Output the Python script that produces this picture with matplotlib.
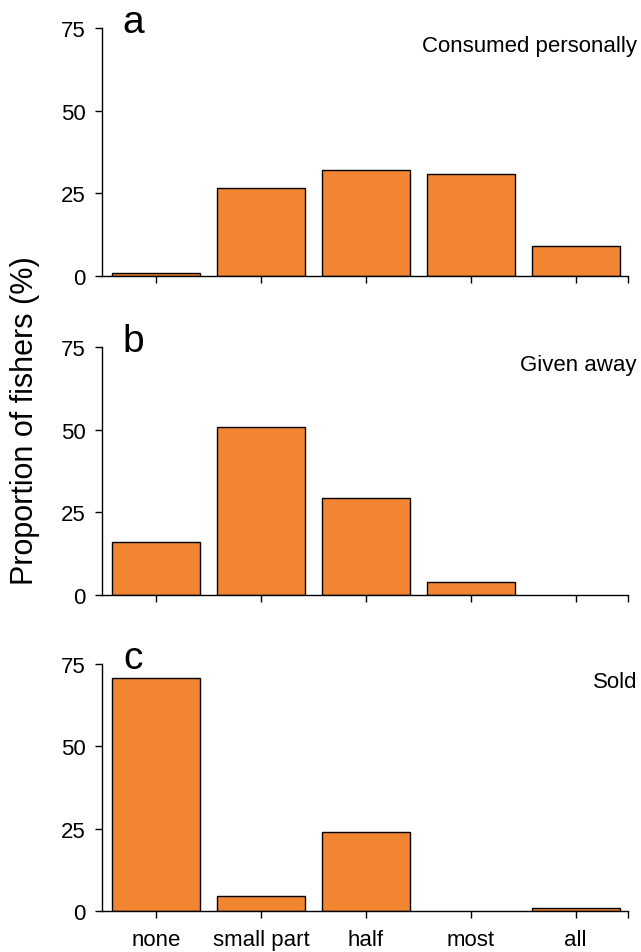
import numpy as np
import matplotlib.pyplot as plt

plt.rcParams['font.family'] = ['Liberation Sans', 'DejaVu Sans']

# --- data ---
categories = ['none', 'small part', 'half', 'most', 'all']
consumed = [1.0, 26.7, 32.1, 30.7, 9.0]
given = [16.1, 50.9, 29.2, 4.0, 0.0]
sold = [70.8, 4.6, 24.1, 0.0, 1.0]

panels = [('a', 'Consumed personally', consumed),
          ('b', 'Given away', given),
          ('c', 'Sold', sold)]

bar_color = '#F28531'

fig = plt.figure(figsize=(6.41, 9.53), dpi=100)
W, H = 641, 953
left_px, right_px = 102, 628
# (top, bottom) of each axes in pixels
frames = [(29, 277), (348, 596), (665, 912)]

x = np.arange(len(categories))
for i, ((letter, title, vals), (top, bot)) in enumerate(zip(panels, frames)):
    ax = fig.add_axes([left_px / W, 1 - bot / H,
                       (right_px - left_px) / W, (bot - top) / H])
    # skip empty categories so no stray outline is drawn
    v = np.array(vals)
    keep = v > 0
    ax.bar(x[keep], v[keep], width=0.84, color=bar_color,
           edgecolor='black', linewidth=1.0)
    ax.set_xlim(-0.52, 4.5)
    ax.set_ylim(0, 75)
    ax.set_yticks([0, 25, 50, 75])
    ax.set_xticks(x)
    ax.set_xticks([4.5], minor=True)
    if i == 2:
        ax.set_xticklabels(categories, fontsize=16)
    else:
        ax.set_xticklabels([])
    ax.tick_params(axis='both', which='both', direction='out', length=5,
                   width=1, labelsize=16)
    ax.tick_params(axis='x', pad=8)
    ax.tick_params(axis='y', pad=7)
    for s in ['top', 'right']:
        ax.spines[s].set_visible(False)
    for s in ['left', 'bottom']:
        ax.spines[s].set_linewidth(1.0)

    # panel letter and category title
    fig.text(133 / W, 1 - (top - 6) / H, letter, fontsize=28,
             ha='center', va='center')
    fig.text(637 / W, 1 - (top + 23) / H, title, fontsize=16,
             ha='right', va='baseline')

fig.text(25 / W, 1 - 421 / H, 'Proportion of fishers (%)', fontsize=22,
         rotation=90, ha='center', va='center')

fig.savefig('out.png', dpi=100)
